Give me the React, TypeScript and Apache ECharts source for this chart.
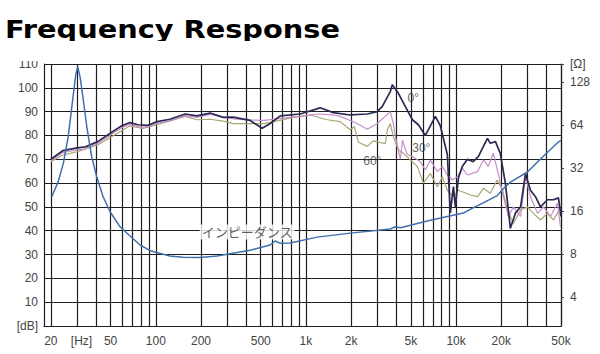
import React, { useEffect, useRef } from 'react';
import * as echarts from 'echarts';

// ---------- data ----------
const tickLabelFreqs = [20, 32, 50, 100, 200, 500, 1000, 2000, 5000, 10000, 20000, 50000];
const tickLabelTexts = ['20', '[Hz]', '50', '100', '200', '500', '1k', '2k', '5k', '10k', '20k', '50k'];
const gridFreqs = [
  20, 30, 40, 50, 60, 70, 80, 90, 100, 200, 300, 400, 500, 600, 700, 800, 900,
  1000, 2000, 3000, 4000, 5000, 6000, 7000, 8000, 9000, 10000, 20000, 30000, 40000, 50000,
];

const freq0 = [20, 24, 30, 34, 41, 50, 58, 67, 76, 88, 102, 124, 157, 188, 230, 281, 328, 425, 511, 578, 674, 916, 1245, 1521, 1974, 2562, 2987, 3226, 3647, 3760, 4122, 4589, 5117, 5610, 6240, 6744, 7281, 7861, 8747, 9160, 9600, 9890, 10360, 11000, 11900, 13000, 14100, 15200, 16200, 16900, 18300, 19700, 21300, 23000, 24900, 26900, 29000, 31300, 33800, 36500, 40600, 44500, 48100, 50000];
const spl0 = [70, 73.6, 74.8, 75.2, 77.4, 81, 83.7, 85.4, 84.5, 84.2, 85.8, 86.8, 89, 88.2, 89.4, 87.6, 87.7, 86.3, 83, 85, 88.2, 89, 91.6, 89.6, 88.6, 89, 90, 92.2, 98.4, 101.3, 97.8, 92.2, 86.6, 84.5, 80, 84, 88, 84, 72, 47.5, 58.5, 50, 62, 67, 70, 69, 71.2, 75.4, 78.8, 76.7, 77.4, 72.5, 60, 41, 47.5, 50, 64, 57, 54.3, 50, 53, 53, 53.8, 46];

const freq30 = [20, 24, 30, 34, 41, 50, 58, 67, 76, 88, 102, 124, 157, 188, 230, 328, 425, 530, 674, 916, 1188, 1521, 1693, 2194, 2562, 2987, 3647, 3819, 3939, 4080, 4256, 4400, 4455, 4735, 5192, 5781, 6240, 6744, 7506, 8100, 8747, 9447, 10200, 11000, 11900, 13900, 15200, 16400, 17700, 19100, 20700, 22300, 24100, 26900, 29000, 31300, 34900, 38200, 42500, 47400, 49600];
const spl30 = [69.4, 72.8, 74, 74.3, 76.6, 80.2, 82.9, 84.7, 83.7, 83.5, 85.1, 86.1, 88.3, 87.6, 88.8, 87, 86.5, 86.3, 87.2, 88, 89, 88.6, 88, 85, 82.6, 85, 90, 85, 79.5, 75.4, 70, 78, 76.7, 72, 71, 69, 65.5, 69.7, 64.8, 67, 63.4, 61.3, 62.7, 66.3, 63.4, 64.8, 69.7, 67, 72.5, 64, 54.3, 46, 50, 46, 62.7, 54.3, 47.3, 50, 46, 51.5, 41.7];

const freq60 = [20, 24, 30, 41, 67, 82, 102, 157, 188, 230, 281, 328, 530, 823, 1068, 1387, 1693, 1974, 2100, 2232, 2312, 2562, 2810, 3128, 3379, 3483, 3647, 3819, 4122, 4455, 4958, 5521, 6053, 6744, 7506, 8100, 8747, 9600, 10360, 12500, 13900, 15200, 16900, 18800, 20400, 22000, 24100, 26900, 29900, 32800, 36500, 40600, 44500, 48100];
const spl60 = [69, 71.8, 73.2, 76, 84, 83, 84.5, 88, 86.6, 86.8, 86, 85, 85, 87.6, 88.6, 86.6, 85.8, 82.4, 83.7, 77.4, 76.7, 75.4, 77.7, 77, 76.7, 82.4, 85, 79.5, 74, 72.5, 69.7, 67, 60, 64, 58.5, 62.7, 57, 54.3, 57, 55, 54.3, 57.8, 55.7, 61.3, 57, 48.7, 43, 48.7, 50, 47.3, 44.5, 47.3, 44.5, 48];

const freqZ = [20.3, 22.4, 24.2, 26.1, 28, 29.4, 30.2, 31.3, 32.9, 34.7, 37.4, 40.4, 44.5, 49.6, 57.8, 67.4, 78.6, 91.6, 124, 152, 197, 256, 425, 578, 624, 674, 786, 1188, 1974, 3647, 3939, 4256, 6744, 11200, 12500, 14500, 18800, 20700, 23000, 29900, 36500, 48000, 50000];
const ohmZ = [20.2, 25.7, 34.5, 53, 98, 147, 164, 139, 95.8, 62.2, 38.4, 27.8, 20.2, 15.8, 12.4, 10.7, 9.25, 8.44, 7.74, 7.6, 7.55, 7.74, 8.5, 9.25, 9.86, 9.5, 9.55, 10.5, 11.2, 11.97, 12.4, 12.2, 13.8, 15.5, 16.5, 17.8, 20.5, 23, 25.5, 30, 37, 48.6, 50];

const annotations = [
  { text: '0°', freq: 5190, db: 95.8 },
  { text: '30°', freq: 5870, db: 74.8 },
  { text: '60°', freq: 2767, db: 69.3 },
  { text: 'インピーダンス', freq: 406, db: 39.5 },
];

const lg = (f: number) => Math.log10(f);
const pairs = (fs: number[], vs: number[]) => fs.map((f, i) => [lg(f), vs[i]]);

export default function App() {
  const ref = useRef<HTMLDivElement>(null);
  useEffect(() => {
    document.body.style.margin = '0';
    const chart = echarts.init(ref.current!, null, { renderer: 'svg' });
    const labelFont = 'Liberation Sans';
    const gridColor = '#1e1e1e';
    chart.setOption({
      animation: false,
      backgroundColor: '#fff',
      grid: { left: 44, right: 39, top: 64, bottom: 28, outerBoundsMode: 'none', containLabel: false },
      graphic: [
        {
          type: 'text', x: 5, y: 17, scaleX: 1.2, z: 10,
          style: { text: 'Frequency Response', font: 'bold 24px "DejaVu Sans"', fill: '#000' },
        },
        { type: 'rect', shape: { x: 0, y: 41, width: 380, height: 20 }, style: { fill: '#fff' }, z: 11 },
      ],
      xAxis: {
        type: 'value',
        min: lg(18),
        max: lg(50000),
        axisLine: { show: true, lineStyle: { color: gridColor, width: 1.2 } },
        axisTick: { show: false, customValues: gridFreqs.map(lg) },
        splitLine: { show: true, lineStyle: { color: gridColor, width: 1.2 } },
        axisLabel: {
          customValues: tickLabelFreqs.map(lg),
          margin: 9,
          color: '#444',
          fontSize: 12,
          fontFamily: labelFont,
          formatter: (v: number) => {
            let best = 0;
            tickLabelFreqs.forEach((f, i) => {
              if (Math.abs(lg(f) - v) < Math.abs(lg(tickLabelFreqs[best]) - v)) best = i;
            });
            return tickLabelTexts[best];
          },
        },
      },
      yAxis: [
        {
          type: 'value',
          min: 0,
          max: 110,
          interval: 10,
          axisLine: { show: true, lineStyle: { color: gridColor, width: 1.2 } },
          axisTick: { show: false },
          splitLine: { show: true, lineStyle: { color: gridColor, width: 1.2 } },
          axisLabel: {
            margin: 6,
            color: '#444',
            fontSize: 12,
            fontFamily: labelFont,
            formatter: (v: number) => (v === 0 ? '[dB]' : String(v)),
          },
        },
        {
          type: 'log',
          logBase: 2,
          min: 2.506,
          max: 171.1,
          position: 'right',
          splitNumber: 6,
          axisLine: { show: true, lineStyle: { color: gridColor, width: 1.2 } },
          axisTick: { show: true, length: 3, lineStyle: { color: '#444' } },
          splitLine: { show: false },
          axisLabel: {
            margin: 9,
            color: '#444',
            fontSize: 12,
            fontFamily: labelFont,
            showMinLabel: false,
            formatter: (v: number) => (v > 150 ? '[Ω]' : v < 3 ? '' : String(Math.round(v))),
          },
        },
      ],
      series: [
        {
          name: '60°', type: 'line', data: pairs(freq60, spl60), symbol: 'none',
          lineStyle: { color: '#a9a673', width: 1.2 }, z: 3,
        },
        {
          name: '30°', type: 'line', data: pairs(freq30, spl30), symbol: 'none',
          lineStyle: { color: '#c68ec8', width: 1.2 }, z: 4,
        },
        {
          name: '0°', type: 'line', data: pairs(freq0, spl0), symbol: 'none',
          lineStyle: { color: '#2c2a52', width: 1.7 }, z: 5,
        },
        {
          name: 'impedance', type: 'line', yAxisIndex: 1, data: pairs(freqZ, ohmZ), symbol: 'none',
          lineStyle: { color: '#3f6fae', width: 1.5 }, z: 6,
        },
        {
          name: 'labels', type: 'scatter', symbolSize: 1, z: 8,
          itemStyle: { color: 'rgba(0,0,0,0)' },
          data: annotations.map((a) => ({
            value: [lg(a.freq), a.db],
            label: {
              show: true,
              position: 'inside',
              formatter: a.text,
              color: '#333',
              fontSize: a.text.length > 3 ? 13 : 12,
              fontFamily: a.text.length > 3 ? '"Noto Sans CJK JP"' : labelFont,
              backgroundColor: a.text.length > 3 ? '#fff' : 'transparent',
              padding: [1, 2],
            },
          })),
        },
      ],
    });
    return () => chart.dispose();
  }, []);
  return <div ref={ref} style={{ width: 600, height: 354 }} />;
}
